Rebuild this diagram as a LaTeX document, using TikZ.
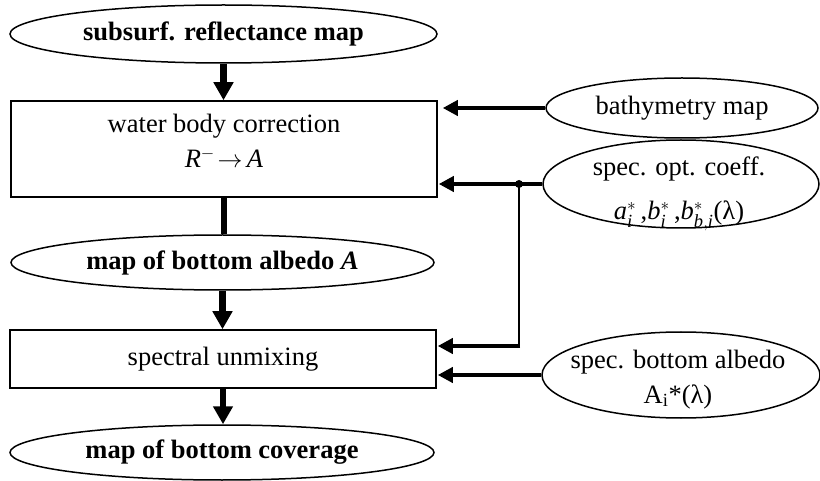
\documentclass[tikz,border=0pt]{standalone}
\usepackage{amsmath}
\usepackage{fontspec}
\setmainfont{Liberation Serif}
\usetikzlibrary{shapes.geometric,arrows.meta}
\begin{document}
\begin{tikzpicture}[x=1pt,y=-1pt,
  every node/.style={font=\fontsize{26.5}{35}\selectfont},
  ell/.style={draw,ellipse,line width=1.5pt,inner sep=0pt},
  box/.style={draw,rectangle,line width=1.5pt,inner sep=0pt,align=center},
  txt/.style={anchor=base,inner sep=0pt},
  down/.style={line width=6.5pt,-{Triangle[length=18pt,width=19pt]}},
  harrow/.style={line width=4pt,-{Triangle[length=15pt,width=15pt]}},
  thinline/.style={line width=2pt}]
\useasboundingbox (0,0) rectangle (820,481);
\node[ell,minimum width=427pt,minimum height=58pt] (e1) at (223.5,34) {\bfseries subsurf. reflectance map};
\node[box,minimum width=426pt,minimum height=96pt] (b1) at (224,149) {};
\node[txt] (b1a) at (224,133) {water body correction};
\node[txt] (b1b) at (224,168) {\textit{R}$^{-}\!\rightarrow$\,\textit{A}};
\node[ell,minimum width=423pt,minimum height=55pt] (e2) at (222.5,262.5) {\bfseries map of bottom albedo \textit{A}};
\node[box,minimum width=426pt,minimum height=58pt] (b2) at (223,359) {spectral unmixing};
\node[ell,minimum width=424pt,minimum height=55pt] (e3) at (222,452.5) {\bfseries map of bottom coverage};
\node[ell,minimum width=272pt,minimum height=60pt] (bath) at (682,108) {bathymetry map};
\node[ell,minimum width=276pt,minimum height=88pt] (opt) at (681,184) {};
\node[txt] (opta) at (679,176) {spec. opt. coeff.};
\node[txt] (optb) at (679,220) {\textit{a}$_{\textit{i}}^{*}$\,,\textit{b}$_{\textit{i}}^{*}$\,,\textit{b}$_{\textit{b},\textit{i}}^{*}$(λ)};
\node[ell,minimum width=278pt,minimum height=86pt] (alb) at (681,375) {};
\node[txt] (alba) at (678,368) {spec. bottom albedo};
\node[txt] (albb) at (678,403) {A\textsubscript{i}*(λ)};
\draw[down] (e1.south) -- (e1.south |- b1.north);
\draw[line width=6.5pt] (b1.south) -- (b1.south |- e2.north);
\draw[down] (e2.south) -- (e2.south |- b2.north);
\draw[down] (b2.south) -- (b2.south |- e3.north);
\draw[harrow,shorten >=5pt] (bath.west) -- (b1.east |- bath.west);
\draw[harrow,shorten >=1pt] (opt.west) -- (b1.east |- opt.west);
\coordinate (j) at (519,184);
\coordinate (k) at (519,346);
\fill (j) circle (4pt);
\draw[thinline] (j) -- (k);
\draw[harrow,shorten >=1pt] ([xshift=1pt]k) -- (b2.east |- k);
\draw[harrow,shorten >=1pt] (alb.west) -- (b2.east |- alb.west);
\end{tikzpicture}
\end{document}
